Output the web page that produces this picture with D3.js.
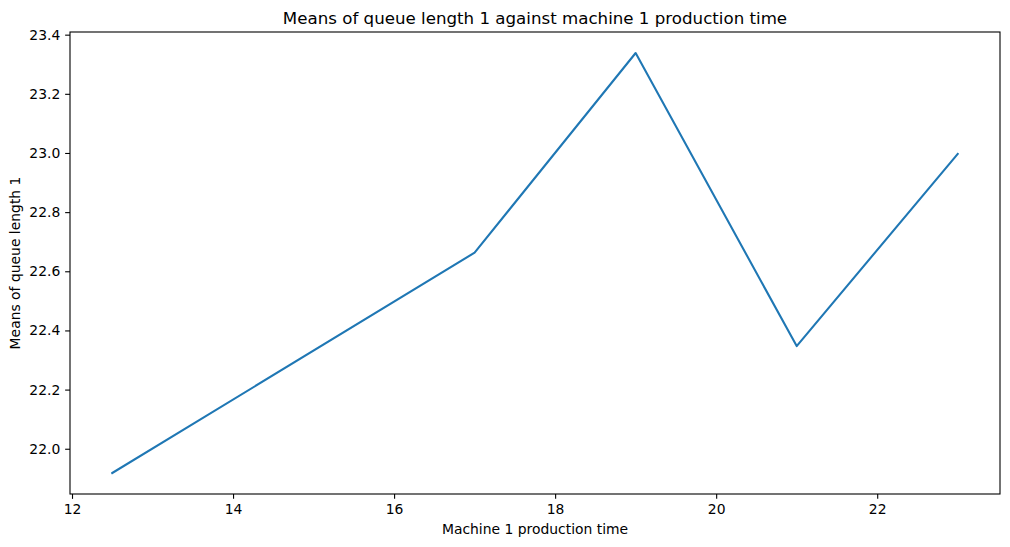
<!DOCTYPE html>
<html>
<head>
<meta charset="utf-8">
<script src="https://cdn.jsdelivr.net/npm/d3@7"></script>
<style>
  html, body { margin: 0; padding: 0; background: #fff; }
  svg text { font-family: "DejaVu Sans", sans-serif; fill: #000; }
</style>
</head>
<body>
<svg id="chart" width="1010" height="547"></svg>
<script>
const productionTime = [12.5, 17, 19, 21, 23];
const queueMeans = [21.918, 22.663, 23.338, 22.347, 22.997];
const xTicks = [12, 14, 16, 18, 20, 22];
const yTicks = [22.0, 22.2, 22.4, 22.6, 22.8, 23.0, 23.2, 23.4];
const titleText = "Means of queue length 1 against machine 1 production time";
const xLabelText = "Machine 1 production time";
const yLabelText = "Means of queue length 1";

(function () {
const svg = d3.select("#chart");
const mLeft = 70, mRight = 1000, mTop = 32, mBottom = 494;

const xMin = d3.min(productionTime), xMax = d3.max(productionTime);
const xm = (xMax - xMin) * 0.05;
const yMin = d3.min(queueMeans), yMax = d3.max(queueMeans);
const ym = (yMax - yMin) * 0.05;

const x = d3.scaleLinear().domain([xMin - xm, xMax + xm]).range([mLeft, mRight]);
const y = d3.scaleLinear().domain([yMin - ym, yMax + ym]).range([mBottom, mTop]);

const tickLen = 4.86;
const xAxis = d3.axisBottom(x).tickValues(xTicks).tickFormat(d3.format("d"))
  .tickSizeInner(tickLen).tickSizeOuter(0).tickPadding(4.86);
const yAxis = d3.axisLeft(y).tickValues(yTicks).tickFormat(d3.format(".1f"))
  .tickSizeInner(tickLen).tickSizeOuter(0).tickPadding(4.86);

const gx = svg.append("g").attr("transform", `translate(0,${mBottom})`).call(xAxis);
const gy = svg.append("g").attr("transform", `translate(${mLeft},0)`).call(yAxis);
[gx, gy].forEach(g => {
  g.select(".domain").remove();
  g.selectAll(".tick line").attr("stroke", "#000").attr("stroke-width", 1.1);
  g.selectAll(".tick text").attr("font-size", "13.9px").attr("fill", "#000")
    .style("font-family", "'DejaVu Sans', sans-serif");
});

const line = d3.line().x((d, i) => x(productionTime[i])).y(d => y(d));
svg.append("path").datum(queueMeans)
  .attr("d", line)
  .attr("fill", "none")
  .attr("stroke", "#1f77b4")
  .attr("stroke-width", 2.08)
  .attr("stroke-linejoin", "round")
  .attr("stroke-linecap", "square");

svg.append("rect")
  .attr("x", mLeft).attr("y", mTop)
  .attr("width", mRight - mLeft).attr("height", mBottom - mTop)
  .attr("fill", "none").attr("stroke", "#000").attr("stroke-width", 1.1);

svg.append("text")
  .attr("x", (mLeft + mRight) / 2).attr("y", 24)
  .attr("text-anchor", "middle")
  .attr("font-size", "16.67px")
  .text(titleText);

svg.append("text")
  .attr("x", (mLeft + mRight) / 2).attr("y", 534)
  .attr("text-anchor", "middle")
  .attr("font-size", "13.9px")
  .text(xLabelText);

svg.append("text")
  .attr("transform", `translate(19.5,${(mTop + mBottom) / 2}) rotate(-90)`)
  .attr("text-anchor", "middle")
  .attr("font-size", "13.9px")
  .text(yLabelText);
})();
</script>
</body>
</html>
